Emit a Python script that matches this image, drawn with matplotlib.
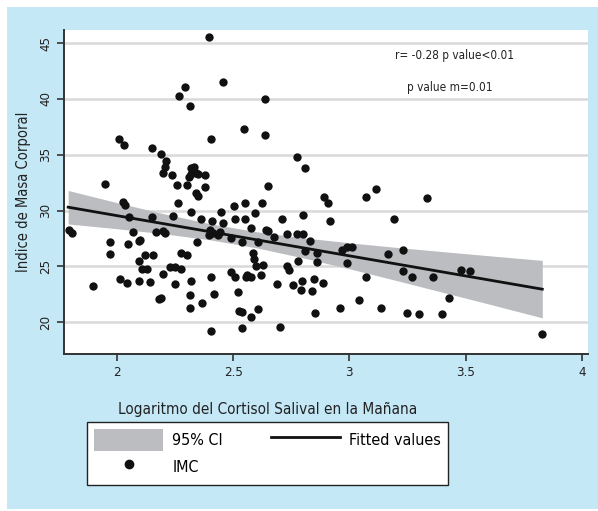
import matplotlib
matplotlib.use("Agg")
import matplotlib.pyplot as plt
from matplotlib.patches import Patch, Rectangle
from matplotlib.lines import Line2D

plt.rcParams['font.family'] = ['DejaVu Sans']
plt.rcParams['font.stretch'] = 'condensed'

# IMC scatter
cortisol = [2.396, 2.456, 2.292, 2.267, 2.314, 2.637, 2.546, 2.404, 2.637, 2.009,
            2.03, 2.15, 2.19, 2.21, 2.206, 2.198, 2.237, 2.32, 2.33, 2.32,
            2.34, 2.31, 2.35, 2.774, 2.81, 2.378, 2.378, 2.65, 1.95, 2.26,
            2.30, 2.34, 2.35, 2.89, 2.91, 3.07, 3.114, 3.333, 3.19, 3.23,
            3.166, 2.97, 2.99, 3.01, 2.99, 2.71, 2.80, 2.916, 2.73, 2.774,
            2.80, 2.83, 2.81, 2.86, 2.78, 2.86, 2.73, 2.74, 3.23, 3.27,
            3.36, 3.48, 3.52, 3.07, 2.757, 2.79, 2.796, 2.84, 2.847, 2.886,
            2.70, 2.85, 2.96, 3.04, 3.135, 3.247, 3.30, 3.40, 3.43, 3.83,
            2.026, 2.034, 2.05, 2.15, 1.794, 1.806, 2.07, 2.17, 1.97, 2.047,
            2.095, 2.10, 1.97, 2.12, 2.155, 2.095, 2.108, 2.13, 2.198, 1.897,
            2.013, 2.043, 2.095, 2.142, 2.19, 2.18, 2.262, 2.503, 2.55, 2.318,
            2.24, 2.447, 2.36, 2.41, 2.456, 2.507, 2.55, 2.594, 2.576, 2.198,
            2.206, 2.40, 2.396, 2.443, 2.434, 2.413, 2.49, 2.538, 2.344, 2.606,
            2.275, 2.30, 2.585, 2.59, 2.228, 2.25, 2.275, 2.32, 2.404, 2.49,
            2.507, 2.555, 2.576, 2.56, 2.60, 2.25, 2.314, 2.417, 2.52, 2.314,
            2.366, 2.525, 2.538, 2.576, 2.606, 2.404, 2.54, 2.624, 2.64, 2.65,
            2.675, 2.628, 2.62, 2.69]
imc = [45.6, 41.5, 41.1, 40.3, 39.4, 40.0, 37.3, 36.4, 36.8, 36.4,
       35.9, 35.6, 35.05, 34.4, 33.9, 33.4, 33.2, 33.8, 33.9, 33.3,
       33.4, 33.0, 33.3, 34.8, 33.8, 33.2, 32.1, 32.2, 32.4, 32.3,
       32.3, 31.6, 31.3, 31.2, 30.7, 31.2, 31.9, 31.1, 29.2, 26.5,
       26.1, 26.45, 26.7, 26.7, 25.3, 29.2, 29.6, 29.05, 27.9, 27.9,
       27.9, 27.3, 26.4, 26.2, 25.5, 25.4, 25.0, 24.7, 24.6, 24.0,
       24.0, 24.7, 24.6, 24.0, 23.3, 22.9, 23.7, 22.8, 23.85, 23.5,
       19.55, 20.8, 21.25, 22.0, 21.3, 20.8, 20.7, 20.7, 22.15, 18.9,
       30.75, 30.5, 29.4, 29.4, 28.3, 28.0, 28.1, 28.1, 27.2, 27.0,
       27.3, 27.4, 26.1, 26.0, 26.0, 25.5, 24.75, 24.75, 24.3, 23.2,
       23.85, 23.5, 23.7, 23.6, 22.2, 22.1, 30.7, 30.4, 30.7, 29.9,
       29.5, 29.9, 29.2, 29.05, 28.9, 29.2, 29.2, 29.8, 28.4, 28.2,
       28.0, 28.3, 27.8, 28.1, 27.8, 28.0, 27.5, 27.2, 27.2, 27.2,
       26.2, 26.0, 26.2, 25.7, 24.9, 24.9, 24.75, 23.7, 24.0, 24.5,
       24.0, 24.0, 24.0, 24.2, 25.0, 23.4, 22.4, 22.5, 22.7, 21.3,
       21.7, 21.0, 20.9, 20.5, 21.2, 19.2, 19.5, 30.7, 28.3, 28.2,
       27.6, 25.1, 24.2, 23.4]

# fitted line and 95% CI band
fit_x = [1.79, 3.83]
fit_y = [30.30, 22.95]
ci_x = [1.79, 2.0, 2.2, 2.4, 2.6, 2.8, 3.0, 3.2, 3.4, 3.6, 3.83]
ci_hi = [31.80, 30.71, 29.72, 28.82, 28.10, 27.56, 27.11, 26.70, 26.32, 25.95, 25.53]
ci_lo = [28.80, 28.37, 27.92, 27.38, 26.66, 25.76, 24.78, 23.74, 22.68, 21.62, 20.38]

xticks = [2, 2.5, 3, 3.5, 4]
xtick_labels = ['2', '2.5', '3', '3.5', '4']
yticks = [20, 25, 30, 35, 40, 45]

fig = plt.figure(figsize=(5.98, 5.11), dpi=100)
fig.patch.set_facecolor('white')
fig.patches.append(Rectangle((7 / 598, 0.004), 1.0, 0.982, transform=fig.transFigure,
                             facecolor='#c5e8f7', edgecolor='none', zorder=-10))

ax = fig.add_axes([0.107, 0.307, 0.876, 0.634])
ax.set_facecolor('white')
ax.fill_between(ci_x, ci_lo, ci_hi, color='#bbbdc0', linewidth=0, zorder=2)
ax.plot(fit_x, fit_y, color='#111111', linewidth=2, zorder=3)
ax.scatter(cortisol, imc, s=36, color='#111111', zorder=4, linewidths=0)

ax.set_xlim(1.772, 4.026)
ax.set_ylim(17.13, 46.17)
ax.set_xticks(xticks)
ax.set_xticklabels(xtick_labels)
ax.set_yticks(yticks)
ax.set_yticklabels([str(v) for v in yticks], rotation=90, va='center')
ax.tick_params(axis='both', direction='out', length=5, width=1.2, color='#333333',
               labelsize=9.5, labelcolor='#222222')
ax.grid(axis='y', color='#d9d9d9', linewidth=1.8)
ax.set_axisbelow(True)
for side in ['top', 'right']:
    ax.spines[side].set_visible(False)
for side in ['left', 'bottom']:
    ax.spines[side].set_color('#333333')
    ax.spines[side].set_linewidth(1.4)

ax.set_ylabel('Indice de Masa Corporal', fontsize=10.5, color='#222222', labelpad=6)
fig.text(0.448, 0.198, 'Logaritmo del Cortisol Salival en la Mañana', ha='center',
         va='center', fontsize=11, color='#222222')

ax.text(0.746, 0.923, 'r= -0.28 p value<0.01', transform=ax.transAxes,
        ha='center', va='center', fontsize=8.5, color='#222222')
ax.text(0.737, 0.824, 'p value m=0.01', transform=ax.transAxes,
        ha='center', va='center', fontsize=8.5, color='#222222')

handles = [Patch(facecolor='#bbbdc0', edgecolor='none'),
           Line2D([], [], marker='o', linestyle='none', color='#111111', markersize=6),
           Line2D([], [], color='#111111', linewidth=2)]
labels = ['95% CI', 'IMC', 'Fitted values']
leg = fig.legend(handles, labels, ncol=2, loc='upper left',
                 bbox_to_anchor=(0.1455, 0.041, 0.604, 0.133), mode='expand',
                 fontsize=11.5, handlelength=4.3, handleheight=1.75, handletextpad=0.6,
                 frameon=True, fancybox=False, edgecolor='#222222', framealpha=1,
                 borderpad=0.45, borderaxespad=0.0, labelspacing=0.3, columnspacing=0.8)
leg.get_frame().set_linewidth(1.0)

fig.savefig('out.png', dpi=100)
